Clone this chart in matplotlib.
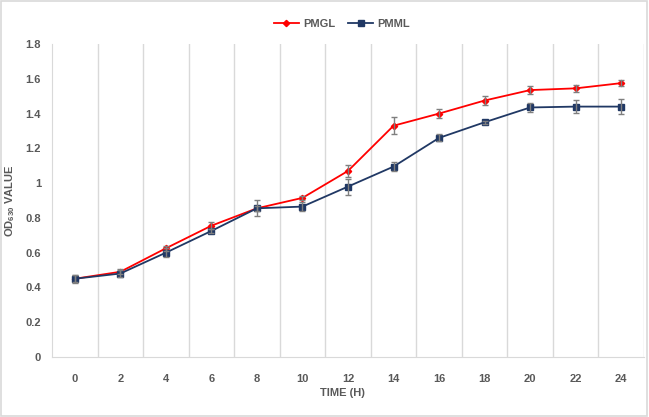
import matplotlib.pyplot as plt
from matplotlib.patches import Rectangle

plt.rcParams['font.family'] = ['Liberation Sans', 'DejaVu Sans']
plt.rcParams['mathtext.fontset'] = 'custom'
plt.rcParams['mathtext.bf'] = 'Liberation Sans:bold'
plt.rcParams['mathtext.rm'] = 'Liberation Sans'

hours = ['0', '2', '4', '6', '8', '10', '12', '14', '16', '18', '20', '22', '24']
pmgl = [0.45, 0.49, 0.625, 0.755, 0.855, 0.915, 1.07, 1.33, 1.40, 1.475, 1.535, 1.545, 1.575]
pmgl_err = [0.02, 0.015, 0.015, 0.02, 0.015, 0.012, 0.035, 0.048, 0.028, 0.027, 0.024, 0.022, 0.018]
pmml = [0.45, 0.48, 0.60, 0.725, 0.855, 0.865, 0.98, 1.095, 1.26, 1.35, 1.435, 1.44, 1.44]
pmml_err = [0.023, 0.022, 0.027, 0.012, 0.047, 0.024, 0.046, 0.028, 0.02, 0.01, 0.026, 0.038, 0.042]

txt = '#595959'
grid = '#D9D9D9'

fig = plt.figure(figsize=(6.49, 4.17), dpi=100)
ax = fig.add_axes([52 / 649, 1 - 357 / 417, 592 / 649, 313 / 417])

x = list(range(len(hours)))
# lines first, error bars on top (gray, capped)
ax.plot(x, pmgl, color='#FF0000', lw=1.3, marker='D', ms=3.2, label='PMGL', zorder=3)
ax.plot(x, pmml, color='#203864', lw=1.3, marker='s', ms=4, label='PMML', zorder=3)
ax.errorbar(x, pmgl, yerr=pmgl_err, fmt='none', ecolor='#7F7F7F', elinewidth=1,
            capsize=2.5, capthick=1, zorder=4)
ax.errorbar(x, pmml, yerr=pmml_err, fmt='none', ecolor='#7F7F7F', elinewidth=1,
            capsize=2.5, capthick=1, zorder=4)

ax.set_xlim(-0.5, len(hours) - 0.5)
ax.set_ylim(0, 1.8)
ax.set_yticks([0, 0.2, 0.4, 0.6, 0.8, 1, 1.2, 1.4, 1.6, 1.8])
ax.set_yticklabels(['0', '0.2', '0.4', '0.6', '0.8', '1', '1.2', '1.4', '1.6', '1.8'])
ax.set_xticks(x)
ax.set_xticklabels(hours)
for b in range(1, len(hours) + 1):
    ax.axvline(b - 0.5, color=grid, lw=1, zorder=0)

for s in ['top', 'right']:
    ax.spines[s].set_visible(False)
for s in ['left', 'bottom']:
    ax.spines[s].set_color(grid)
ax.tick_params(length=0, labelsize=8, colors=txt)
ax.tick_params(axis='x', pad=12)
ax.tick_params(axis='y', pad=8)
for lab in ax.get_xticklabels() + ax.get_yticklabels():
    lab.set_fontweight('bold')

ax.set_xlabel('TIME (H)', fontsize=8, color=txt, fontweight='bold')
ax.xaxis.set_label_coords(0.49, -31 / 313)
ax.set_ylabel(r'OD$_{\mathbf{630}}$ VALUE', fontsize=8, color=txt, fontweight='bold')
ax.yaxis.set_label_coords(-35 / 592, 0.5)

leg = ax.legend(loc='center', bbox_to_anchor=(0.49, 1 + 20 / 313), ncol=2, frameon=False,
                fontsize=8, handlelength=2.2, columnspacing=1.2, handletextpad=0.4)
for t in leg.get_texts():
    t.set_color(txt)
    t.set_fontweight('bold')

fig.patches.append(Rectangle((0.002, 0.003), 0.995, 0.994, transform=fig.transFigure,
                             fill=False, edgecolor=grid, lw=1.2))

fig.savefig('out.png', dpi=100)
